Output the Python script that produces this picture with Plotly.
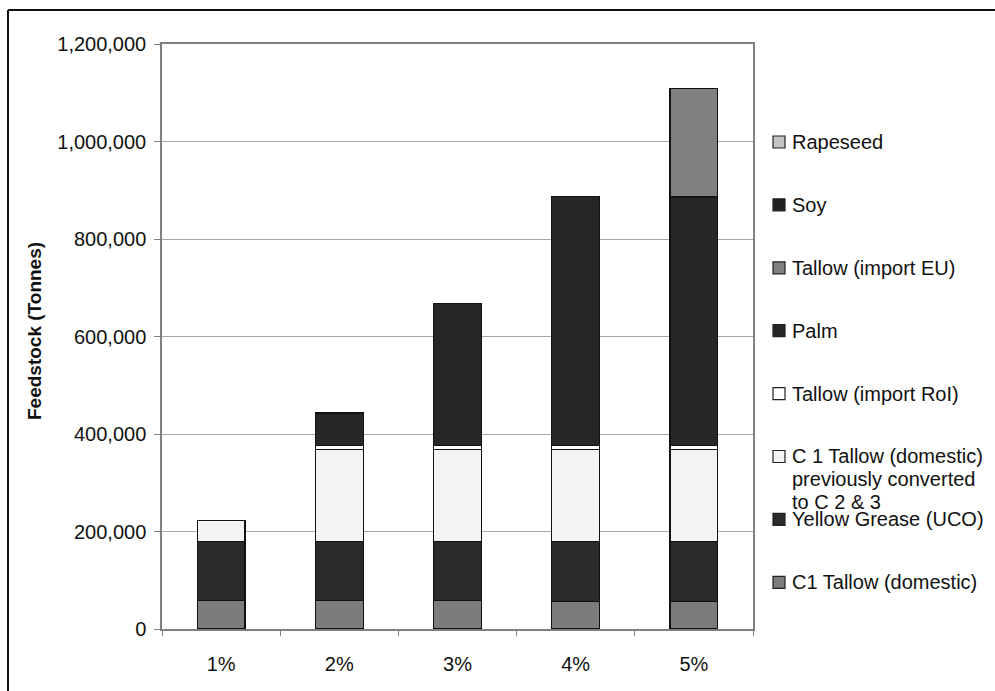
import plotly.graph_objects as go

# Blend-mandate scenarios and the feedstock mix (tonnes) needed for each
categories = ["1%", "2%", "3%", "4%", "5%"]

c1_tallow_domestic = [58000, 58000, 58000, 57000, 57000]
yellow_grease = [121000, 121000, 121000, 122000, 122000]
c1_tallow_prev_converted = [43000, 190000, 190000, 190000, 190000]
tallow_import_roi = [None, 8000, 8000, 8000, 8000]
palm = [None, 66000, 290000, 511000, 509000]
tallow_import_eu = [None, None, None, None, 223000]
soy = [None, None, None, None, None]
rapeseed = [None, None, None, None, None]

# Stack order, bottom to top
series = [
    ("C1 Tallow (domestic)", c1_tallow_domestic, "#7c7c7c"),
    ("Yellow Grease (UCO)", yellow_grease, "#2b2b2b"),
    ("C 1 Tallow (domestic)<br>previously converted<br>to C 2 & 3", c1_tallow_prev_converted, "#f3f3f3"),
    ("Tallow (import RoI)", tallow_import_roi, "#ffffff"),
    ("Palm", palm, "#272727"),
    ("Tallow (import EU)", tallow_import_eu, "#808080"),
    ("Soy", soy, "#1f1f1f"),
    ("Rapeseed", rapeseed, "#c4c4c4"),
]

y_ticks = [0, 200000, 400000, 600000, 800000, 1000000, 1200000]
y_tick_text = ["0", "200,000", "400,000", "600,000", "800,000", "1,000,000", "1,200,000"]

W, H = 995, 691
L, R, T, B = 162, 753, 44, 629  # plot-area edges in pixels


def px_x(px):
    return (px - L) / (R - L)


def px_y(py):
    return (B - py) / (B - T)


FONT = "Liberation Sans, Arial, sans-serif"

fig = go.Figure()
for name, values, color in series:
    fig.add_trace(go.Bar(
        x=categories, y=values, name=name.replace("<br>", " "),
        marker=dict(color=color, line=dict(color="#111111", width=1.2)),
        showlegend=False,
    ))

shapes = []
annotations = []

# Legend drawn at the right, topmost series first
legend_top, legend_step = 142, 62.9
for i, (name, values, color) in enumerate(reversed(series)):
    yc = legend_top + i * legend_step
    shapes.append(dict(
        type="rect", xref="paper", yref="paper",
        x0=px_x(773), x1=px_x(785), y0=px_y(yc + 6), y1=px_y(yc - 6),
        fillcolor=color, line=dict(color="#222222", width=1.2),
    ))
    for j, line in enumerate(name.split("<br>")):
        annotations.append(dict(
            text=line, xref="paper", yref="paper",
            x=px_x(790), y=px_y(yc + j * 22.5),
            xanchor="left", yanchor="middle", showarrow=False,
            font=dict(family=FONT, size=20, color="#111111"),
        ))

# Axis title
annotations.append(dict(
    text="<b>Feedstock (Tonnes)</b>", xref="paper", yref="paper",
    x=px_x(34), y=px_y(331), textangle=-90,
    xanchor="center", yanchor="middle", showarrow=False,
    font=dict(family=FONT, size=19, color="#111111"),
))

# Outer frame of the chart
shapes.append(dict(type="line", xref="paper", yref="paper",
                   x0=px_x(8), x1=px_x(1000), y0=px_y(10), y1=px_y(10),
                   line=dict(color="#111111", width=2)))
shapes.append(dict(type="line", xref="paper", yref="paper",
                   x0=px_x(8), x1=px_x(8), y0=px_y(10), y1=px_y(700),
                   line=dict(color="#111111", width=2)))

fig.update_layout(
    width=W, height=H,
    margin=dict(l=L, r=W - R, t=T, b=H - B),
    barmode="stack", bargap=0.594,
    plot_bgcolor="#ffffff", paper_bgcolor="#ffffff",
    font=dict(family=FONT, size=20, color="#111111"),
    shapes=shapes, annotations=annotations,
    showlegend=False,
)
fig.update_yaxes(
    range=[0, 1200000], tickvals=y_ticks, ticktext=y_tick_text,
    showgrid=True, gridcolor="#a6a6a6", gridwidth=1,
    showline=True, linecolor="#808080", linewidth=1.5, mirror=True,
    ticks="outside", ticklen=6, tickcolor="#808080",
    ticklabelstandoff=4, zeroline=False,
    tickfont=dict(family=FONT, size=20, color="#111111"),
)
fig.update_xaxes(
    showline=True, linecolor="#808080", linewidth=1.5, mirror=True,
    ticks="outside", ticklen=5, tickcolor="#808080", tickson="boundaries",
    ticklabelstandoff=16, showgrid=False,
    tickfont=dict(family=FONT, size=20, color="#111111"),
)

fig.write_html("out.html")
